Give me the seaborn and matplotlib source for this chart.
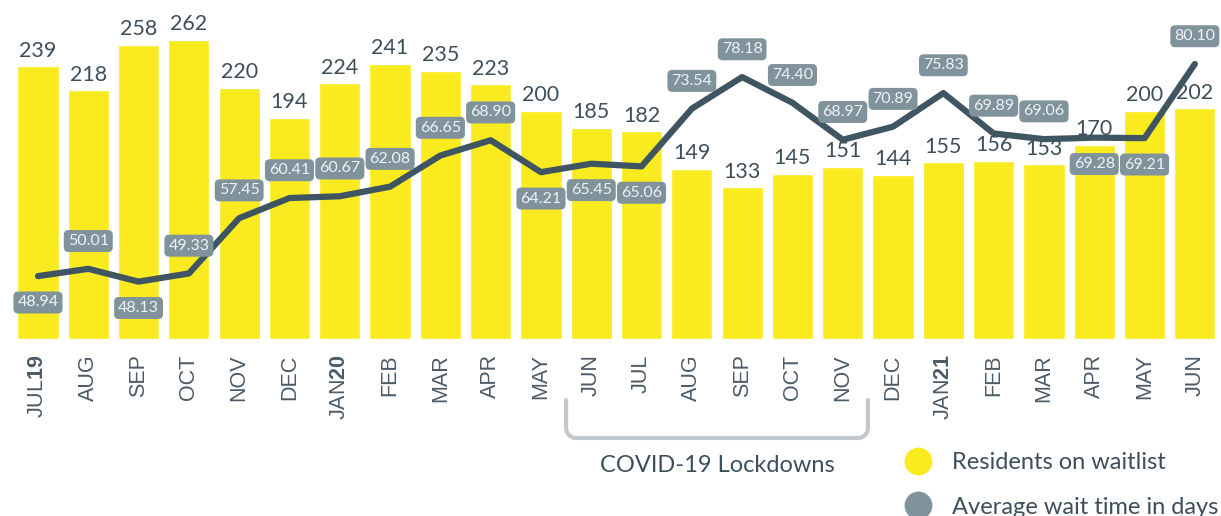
import numpy as np
import matplotlib
matplotlib.use("Agg")
import matplotlib.pyplot as plt
import seaborn as sns
from matplotlib.lines import Line2D
import matplotlib.transforms as mtransforms

# Data
months = ['JUL$\\mathbf{19}$', 'AUG', 'SEP', 'OCT', 'NOV', 'DEC', 'JAN$\\mathbf{20}$', 'FEB', 'MAR', 'APR',
          'MAY', 'JUN', 'JUL', 'AUG', 'SEP', 'OCT', 'NOV', 'DEC', 'JAN$\\mathbf{21}$', 'FEB', 'MAR', 'APR',
          'MAY', 'JUN']
residents = [239, 218, 258, 262, 220, 194, 224, 241, 235, 223, 200, 185,
             182, 149, 133, 145, 151, 144, 155, 156, 153, 170, 200, 202]
wait_days = [48.94, 50.01, 48.13, 49.33, 57.45, 60.41, 60.67, 62.08, 66.65, 68.90, 64.21, 65.45,
             65.06, 73.54, 78.18, 74.40, 68.97, 70.89, 75.83, 69.89, 69.06, 69.28, 69.21, 80.10]
# label placement: True = above the point
label_above = [False, True, False, True, True, True, True, True, True, True, False, False,
               False, True, True, True, True, True, True, True, True, False, False, True]

YELLOW = '#f9eb1f'
LINE = '#3f5561'
BOX = '#80939d'
TEXT = '#3d4f5b'

sns.set_style('white')
plt.rcParams['font.family'] = ['Lato', 'DejaVu Sans']
plt.rcParams['mathtext.fontset'] = 'custom'
plt.rcParams['mathtext.rm'] = 'Liberation Sans'
plt.rcParams['mathtext.bf'] = 'Liberation Sans:bold'

fig = plt.figure(figsize=(12.21, 5.16), dpi=100)
ax = fig.add_axes([0, 0.343, 1, 0.657])

x = np.arange(len(residents))
sns.barplot(x=x, y=residents, color=YELLOW, saturation=1, width=0.82, ax=ax)
ax.set_xlim(-0.755, 23.52)
ax.set_ylim(0, 297)

for xi, v in zip(x, residents):
    ax.annotate(str(v), (xi, v), xytext=(0, 4), textcoords='offset points',
                ha='center', va='bottom', fontsize=15.5, color=TEXT)

ax.set_xticks(x)
ax.set_xticklabels(months, rotation=90, fontsize=15.5, color='#4b5b67',
                   fontfamily='Liberation Sans', va='top')
ax.tick_params(axis='x', length=0, pad=11)
ax.set_yticks([])
ax.set_xlabel('')
for s in ax.spines.values():
    s.set_visible(False)

ax2 = ax.twinx()
sns.lineplot(x=x, y=wait_days, color=LINE, linewidth=4.5, ax=ax2,
             solid_joinstyle='round', solid_capstyle='round')
ax2.set_ylim(39.7, 89.5)
ax2.set_xlim(-0.755, 23.52)
ax2.set_yticks([])
ax2.set_ylabel('')
for s in ax2.spines.values():
    s.set_visible(False)

for xi, v, up in zip(x, wait_days, label_above):
    dy = 20 if up else -19
    ax2.annotate(f'{v:.2f}', (xi, v), xytext=(0, dy), textcoords='offset points',
                 ha='center', va='center', fontsize=11.5, color='#eef2f4',
                 bbox=dict(boxstyle='round,pad=0.25,rounding_size=0.3', fc=BOX, ec='none'))

# COVID-19 bracket
trans = mtransforms.blended_transform_factory(ax.transData, ax.transAxes)
x0, x1 = 10.5, 16.5
yt, yb = -0.18, -0.292
rx, ry = 10 / 50.3, 10 / 339
t = np.linspace(0, np.pi / 2, 15)
bx = np.concatenate([[x0], x0 + rx - rx * np.cos(t), x1 - rx + rx * np.sin(t), [x1]])
by = np.concatenate([[yt], yb + ry - ry * np.sin(t), yb + ry - ry * np.cos(t), [yt]])
ax.add_line(Line2D(bx, by, transform=trans, color='#c2c8cc', lw=3,
                   solid_capstyle='round', clip_on=False))
ax.text(13.5, -0.372, 'COVID-19 Lockdowns', transform=trans, ha='center', va='center',
        fontsize=17, color=TEXT)

handles = [Line2D([], [], marker='o', ls='none', ms=20, mfc=YELLOW, mec='none'),
           Line2D([], [], marker='o', ls='none', ms=20, mfc=BOX, mec='none')]
fig.legend(handles, ['Residents on waitlist', 'Average wait time in days'],
           loc='upper left', bbox_to_anchor=(0.740, 0.124), frameon=False,
           fontsize=17, handlelength=1.2, handletextpad=0.85, labelspacing=1.0,
           borderpad=0, borderaxespad=0, labelcolor=TEXT)

fig.savefig('out.png', dpi=100)
